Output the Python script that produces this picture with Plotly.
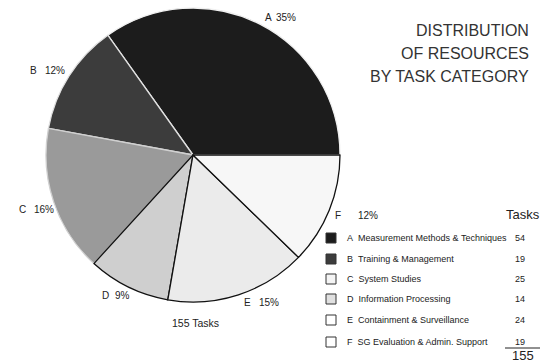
import plotly.graph_objects as go

W, H = 550, 363

letters = ["A", "B", "C", "D", "E", "F"]
names = ["Measurement Methods & Techniques", "Training & Management", "System Studies",
         "Information Processing", "Containment & Surveillance", "SG Evaluation & Admin. Support"]
tasks = [54, 19, 25, 14, 24, 19]
title_lines = ["DISTRIBUTION", "OF RESOURCES", "BY TASK CATEGORY"]

fills = ["#1c1c1c", "#3c3c3c", "#9a9a9a", "#cfcfcf", "#ebebeb", "#f7f7f7"]
outline = ["#f0f0f0", "#e0e0e0", "#d0d0d0", "#111111", "#111111", "#111111"]

total = sum(tasks)
pcts = [round(100 * t / total) for t in tasks]
# first slice starts at 3 o'clock and runs counterclockwise
start_rot = 90 - 360 * tasks[0] / total


def px(x):
    return x / W


def py(y):
    return 1 - y / H


fig = go.Figure()
fig.add_trace(go.Pie(
    values=tasks, labels=letters, sort=False, direction="counterclockwise", rotation=start_rot,
    textinfo="none", hoverinfo="label+value+percent", showlegend=False,
    marker=dict(colors=fills, line=dict(color=outline, width=1.3)),
    domain=dict(x=[px(46), px(340)], y=[py(302), py(8)]),
))

font = "Liberation Sans, Arial, sans-serif"
ink = "#222222"
ann = []


def add_text(x, y, text, size, anchor="left", color=ink):
    ann.append(dict(x=px(x), y=py(y), xref="paper", yref="paper", text=text,
                    xanchor=anchor, yanchor="middle", showarrow=False,
                    font=dict(family=font, size=size, color=color)))


# slice labels (letter + percent)
lab_pos = [(263, 274, 17), (28, 43, 71), (17, 32, 210), (100, 113, 295), (242, 257, 302), (333, 356, 215)]
for i, (lx, pxx, yy) in enumerate(lab_pos):
    add_text(lx, yy, letters[i], 10)
    add_text(pxx, yy, f"{pcts[i]}%", 10)

# title
for j, line in enumerate(title_lines):
    add_text(531, 31 + 22.5 * j, line, 16, anchor="right", color="#333333")

# legend table
add_text(542, 214, "Tasks", 13, anchor="right")
row_y = [238, 259, 279, 299, 320, 342]
for i in range(6):
    add_text(345, row_y[i], f"{letters[i]}&nbsp;&nbsp;{names[i]}", 9)
    add_text(527, row_y[i], str(tasks[i]), 9, anchor="right")
add_text(523, 355, str(total), 13, anchor="center")
add_text(195, 323, f"{total} Tasks", 10.5, anchor="center")

# legend swatches drawn as markers on a hidden pixel-like axis
box_fill = ["#1c1c1c", "#3c3c3c", "#f4f4f4", "#e0e0e0", "#ffffff", "#ffffff"]
fig.add_trace(go.Scatter(
    x=[331] * 6, y=row_y, mode="markers", showlegend=False, hoverinfo="skip",
    marker=dict(symbol="square", size=10, color=box_fill, line=dict(color="#333333", width=1)),
))

fig.update_layout(
    width=W, height=H, margin=dict(l=0, r=0, t=0, b=0),
    paper_bgcolor="white", plot_bgcolor="rgba(0,0,0,0)",
    xaxis=dict(range=[0, W], visible=False, domain=[0, 1], fixedrange=True),
    yaxis=dict(range=[H, 0], visible=False, domain=[0, 1], fixedrange=True),
    annotations=ann,
    shapes=[dict(type="line", xref="paper", yref="paper", x0=px(505), x1=px(540),
                 y0=py(348), y1=py(348), line=dict(color=ink, width=1))],
)

fig.write_html("out.html")
